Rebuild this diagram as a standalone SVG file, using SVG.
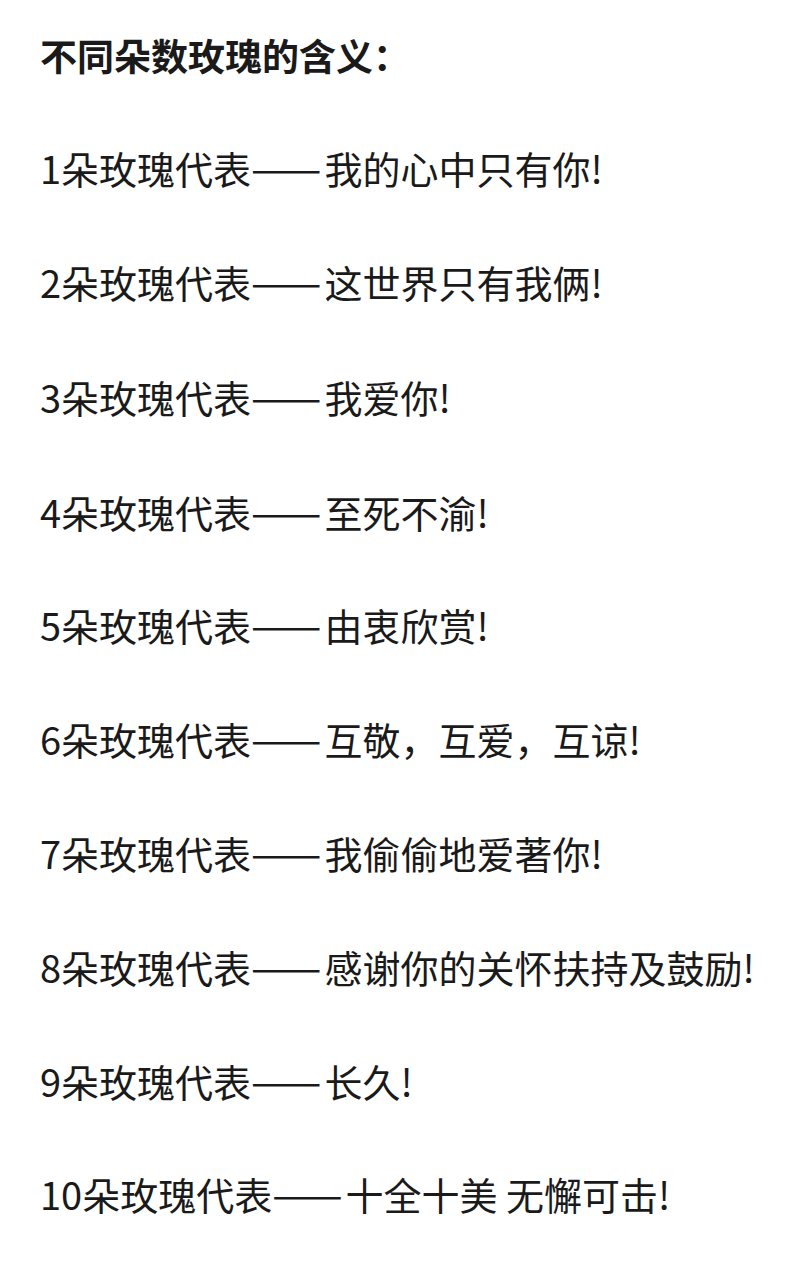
<svg xmlns="http://www.w3.org/2000/svg" width="800" height="1276" viewBox="0 0 800 1276">
<style>
text{font-family:"Noto Sans CJK SC","Noto Sans",sans-serif;fill:#1a1a1a;font-size:38px}
.t{font-weight:bold;font-size:37px}
.d{letter-spacing:3px;font-size:42px}
</style>
<rect width="800" height="1276" fill="#fff"/>
<text class="t" x="40" y="71">不同朵数玫瑰的含义：</text>
<text x="40" y="184">1朵玫瑰代表<tspan class="d">——</tspan>我的心中只有你!</text>
<text x="40" y="298">2朵玫瑰代表<tspan class="d">——</tspan>这世界只有我俩!</text>
<text x="40" y="413">3朵玫瑰代表<tspan class="d">——</tspan>我爱你!</text>
<text x="40" y="528">4朵玫瑰代表<tspan class="d">——</tspan>至死不渝!</text>
<text x="40" y="641">5朵玫瑰代表<tspan class="d">——</tspan>由衷欣赏!</text>
<text x="40" y="755">6朵玫瑰代表<tspan class="d">——</tspan>互敬，互爱，互谅!</text>
<text x="40" y="869">7朵玫瑰代表<tspan class="d">——</tspan>我偷偷地爱著你!</text>
<text x="40" y="983">8朵玫瑰代表<tspan class="d">——</tspan>感谢你的关怀扶持及鼓励!</text>
<text x="40" y="1097">9朵玫瑰代表<tspan class="d">——</tspan>长久!</text>
<text x="40" y="1210">10朵玫瑰代表<tspan class="d">——</tspan>十全十美 无懈可击!</text>
</svg>
